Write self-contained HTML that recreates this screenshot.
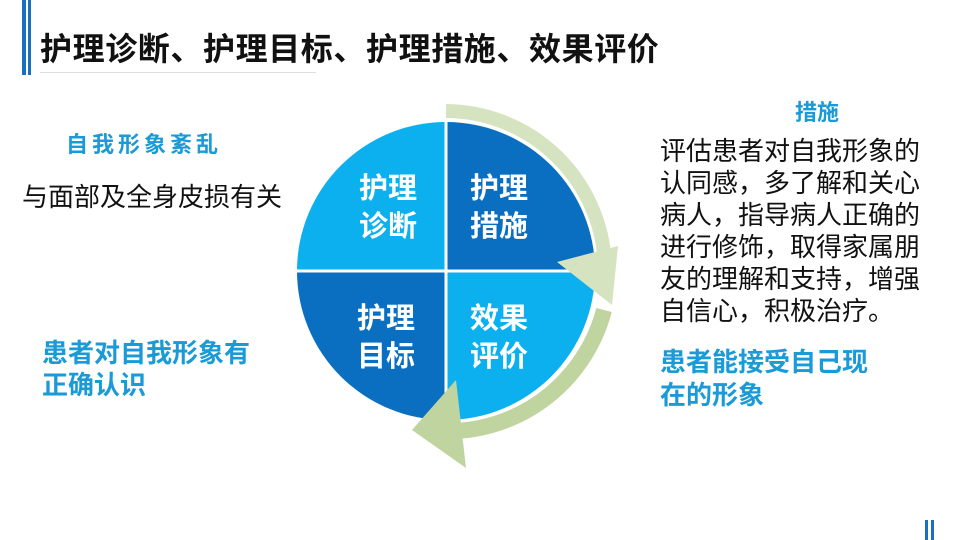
<!DOCTYPE html>
<html><head><meta charset="utf-8"><style>
body{margin:0;width:960px;height:540px;background:#fff;position:relative;overflow:hidden;font-family:"Liberation Sans","Noto Sans CJK SC",sans-serif}
.a{position:absolute;white-space:nowrap}
.b{color:#1a9ad6;font-weight:bold}
</style></head><body>
<div class="a" style="left:22px;top:0;width:4px;height:75px;background:#1a6fc0"></div>
<div class="a" style="left:28px;top:0;width:3px;height:75px;background:#1a6fc0"></div>
<div class="a" style="left:40px;top:72px;width:276px;height:1px;background:#ddd"></div>
<div class="a" style="left:40px;top:24px;font-size:32px;font-weight:bold;color:#111;letter-spacing:0.6px">护理诊断、护理目标、护理措施、效果评价</div>
<div class="a" style="left:925px;top:520px;width:3px;height:20px;background:#1a6fc0"></div>
<div class="a" style="left:931px;top:520px;width:3px;height:20px;background:#1a6fc0"></div>

<svg class="a" style="left:0;top:0" width="960" height="540">
<path d="M446,271 L446,122 A149,149 0 0 0 297,271 Z" fill="#0cb0ee"/>
<path d="M446,271 L595,271 A149,149 0 0 0 446,122 Z" fill="#0a6fc0"/>
<path d="M446,271 L297,271 A149,149 0 0 0 446,420 Z" fill="#0a6fc0"/>
<path d="M446,271 L446,420 A149,149 0 0 0 595,271 Z" fill="#0cb0ee"/>
<line x1="446" y1="120" x2="446" y2="422" stroke="#fff" stroke-width="3"/>
<line x1="295" y1="271" x2="597" y2="271" stroke="#fff" stroke-width="3"/>
<path d="M446,111 A160,160 0 0 1 604,253" fill="none" stroke="#d6e3c0" stroke-width="14"/>
<polygon points="557,262 618,246 612,305" fill="#d6e3c0"/>
<path d="M604,310 A162,162 0 0 1 456,431" fill="none" stroke="#bfd49f" stroke-width="16"/>
<polygon points="412,430 456,380 466,468" fill="#bfd49f"/>
</svg>
<div class="a" style="left:359px;top:170px;font-size:29px;font-weight:bold;color:#fff;line-height:38px">护理<br>诊断</div>
<div class="a" style="left:470px;top:170px;font-size:29px;font-weight:bold;color:#fff;line-height:38px">护理<br>措施</div>
<div class="a" style="left:357px;top:300px;font-size:29px;font-weight:bold;color:#fff;line-height:38px">护理<br>目标</div>
<div class="a" style="left:470px;top:300px;font-size:29px;font-weight:bold;color:#fff;line-height:38px">效果<br>评价</div>

<div class="a b" style="left:66px;top:127px;font-size:22px;letter-spacing:4px">自我形象紊乱</div>
<div class="a" style="left:22px;top:177px;font-size:26px;color:#111">与面部及全身皮损有关</div>
<div class="a b" style="left:42px;top:337px;font-size:26px;line-height:32px">患者对自我形象有<br>正确认识</div>
<div class="a b" style="left:795px;top:95px;font-size:22px">措施</div>
<div class="a" style="left:660px;top:135px;font-size:26px;line-height:32px;color:#111">评估患者对自我形象的<br>认同感，多了解和关心<br>病人，指导病人正确的<br>进行修饰，取得家属朋<br>友的理解和支持，增强<br>自信心，积极治疗。</div>
<div class="a b" style="left:660px;top:346px;font-size:26px;line-height:33px">患者能接受自己现<br>在的形象</div>
</body></html>
